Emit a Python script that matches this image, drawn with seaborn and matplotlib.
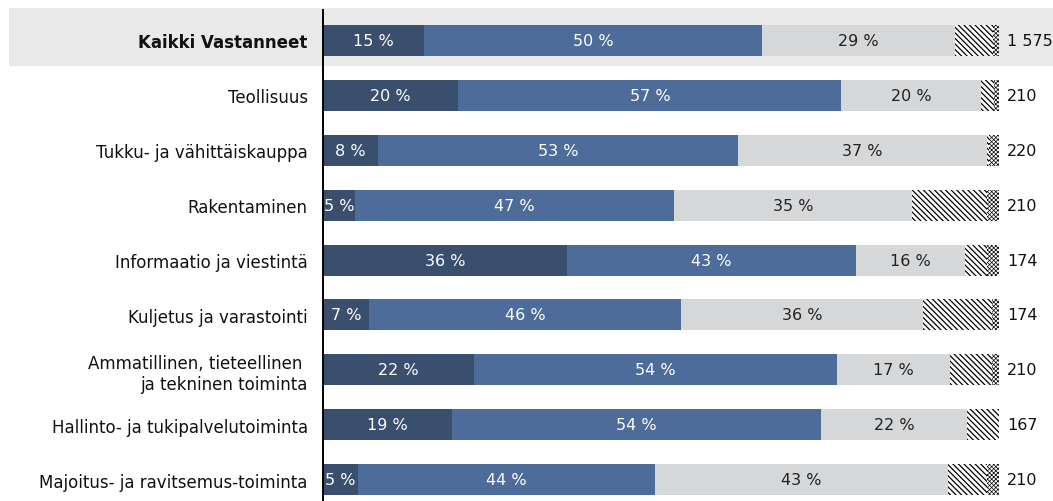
import matplotlib
matplotlib.use("Agg")
import matplotlib.pyplot as plt
from matplotlib import font_manager
from matplotlib.patches import Rectangle
import seaborn as sns
import numpy as np
import pandas as pd

# Data (share of respondents, %)
categories = [
    "Kaikki Vastanneet",
    "Teollisuus",
    "Tukku- ja vähittäiskauppa",
    "Rakentaminen",
    "Informaatio ja viestintä",
    "Kuljetus ja varastointi",
    "Ammatillinen, tieteellinen \nja tekninen toiminta",
    "Hallinto- ja tukipalvelutoiminta",
    "Majoitus- ja ravitsemus-toiminta",
]
seg1 = [15.0, 20.0, 8.1, 4.7, 36.1, 6.8, 22.3, 19.1, 5.2]
seg2 = [50.0, 56.7, 53.3, 47.2, 42.8, 46.2, 53.8, 54.6, 43.9]
seg3 = [28.5, 20.6, 36.8, 35.3, 16.0, 35.7, 16.7, 21.6, 43.3]
seg4 = [5.6, 1.9, 0.3, 11.0, 3.4, 10.2, 6.2, 4.7, 5.8]
seg5 = [0.9, 0.8, 1.5, 1.8, 1.7, 1.1, 1.0, 0.0, 1.8]
labels1 = ["15 %", "20 %", "8 %", "5 %", "36 %", "7 %", "22 %", "19 %", "5 %"]
labels2 = ["50 %", "57 %", "53 %", "47 %", "43 %", "46 %", "54 %", "54 %", "44 %"]
labels3 = ["29 %", "20 %", "37 %", "35 %", "16 %", "36 %", "17 %", "22 %", "43 %"]
counts = [1575, 210, 220, 210, 174, 174, 210, 167, 210]

sns.set_theme(style="white")

# pick a narrow font if one is installed
names = {f.name for f in font_manager.fontManager.ttflist}
family = "DejaVu Sans"
for cand in ["DejaVu Sans Condensed", "Liberation Sans Narrow", "DejaVu Sans"]:
    if cand in names:
        family = cand
        break
plt.rcParams["font.family"] = [family]

df = pd.DataFrame({"cat": categories, "s1": seg1, "s2": seg2, "s3": seg3,
                   "s4": seg4, "s5": seg5})
df["c1"] = df["s1"]
df["c2"] = df["c1"] + df["s2"]
df["c3"] = df["c2"] + df["s3"]
df["c4"] = df["c3"] + df["s4"]
df["c5"] = df["c4"] + df["s5"]

fig = plt.figure(figsize=(10.53, 5.02), dpi=100)
fig.patch.set_facecolor("white")
# highlight band behind the first row
fig.patches.append(Rectangle((9 / 1053, (502 - 67) / 502), 1 - 9 / 1053, 58 / 502,
                             transform=fig.transFigure, facecolor="#e9e9e9",
                             edgecolor="none", zorder=0))

ax = fig.add_axes([0.3067, -0.012, 0.642, 0.984])
ax.set_facecolor("none")
ax.set_zorder(2)

bw = 0.565
# draw cumulative bars from longest to shortest so they stack
plt.rcParams["hatch.linewidth"] = 0.5
sns.barplot(data=df, x="c5", y="cat", color="white", saturation=1, width=bw,
            hatch="xxxxxxxx", edgecolor="black", linewidth=0, ax=ax)
plt.rcParams["hatch.linewidth"] = 0.9
sns.barplot(data=df, x="c4", y="cat", color="white", saturation=1, width=bw,
            hatch="\\\\\\\\\\\\", edgecolor="black", linewidth=0, ax=ax)
sns.barplot(data=df, x="c3", y="cat", color="#d6d7d9", saturation=1, width=bw,
            linewidth=0, ax=ax)
sns.barplot(data=df, x="c2", y="cat", color="#4d6c9a", saturation=1, width=bw,
            linewidth=0, ax=ax)
sns.barplot(data=df, x="c1", y="cat", color="#3a4e6e", saturation=1, width=bw,
            linewidth=0, ax=ax)

fs = 12
bfs = 11.5
for i in range(len(categories)):
    ax.text(df["c1"][i] / 2, i, labels1[i], ha="center", va="center",
            color="white", fontsize=bfs)
    ax.text((df["c1"][i] + df["c2"][i]) / 2, i, labels2[i], ha="center",
            va="center", color="white", fontsize=bfs)
    ax.text((df["c2"][i] + df["c3"][i]) / 2, i, labels3[i], ha="center",
            va="center", color="#222222", fontsize=bfs)
    ax.text(101.2, i, f"{counts[i]:,}".replace(",", " "), ha="left",
            va="center", color="#111111", fontsize=bfs)

ax.set_xlim(0, 100)
ax.set_ylim(8.5, -0.5)
ax.set_xlabel("")
ax.set_ylabel("")
ax.set_xticks([])
ax.tick_params(axis="y", length=0, pad=11, labelsize=fs, labelcolor="#111111")
for lab in ax.get_yticklabels():
    if lab.get_text() == "Kaikki Vastanneet":
        lab.set_fontweight("bold")
for s in ["top", "right", "bottom"]:
    ax.spines[s].set_visible(False)
ax.spines["left"].set_color("black")
ax.spines["left"].set_linewidth(1.4)
ax.spines["left"].set_bounds(-0.55, 8.5)

fig.savefig("out.png", dpi=100)
